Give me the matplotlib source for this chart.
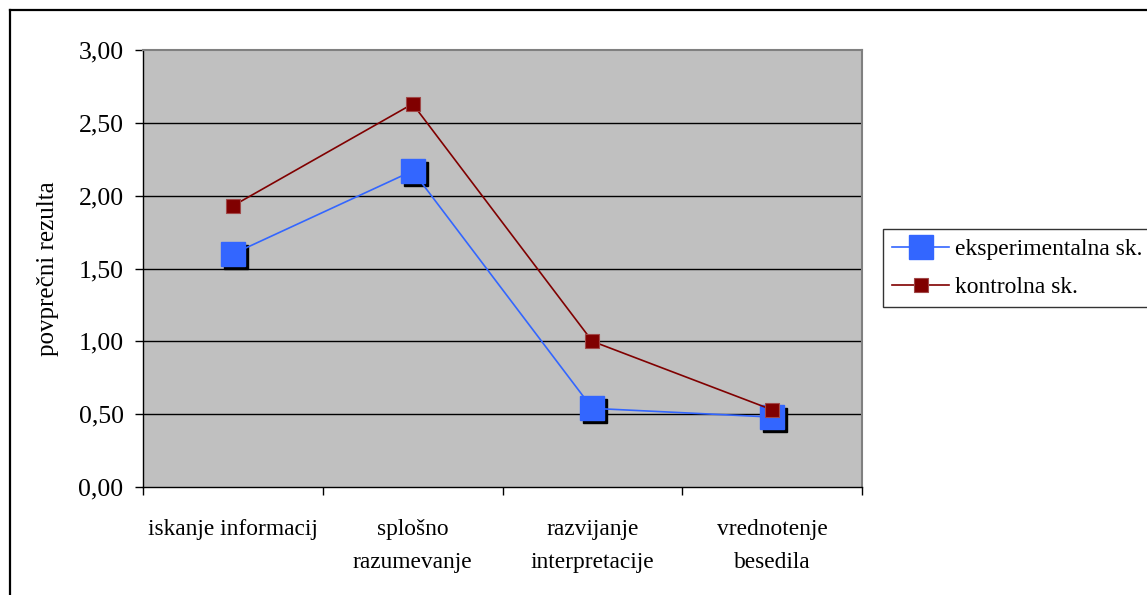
import matplotlib
matplotlib.use("Agg")
import matplotlib.pyplot as plt
import matplotlib.transforms as mtransforms
from matplotlib.lines import Line2D

plt.rcParams['font.family'] = ['Liberation Serif', 'DejaVu Serif']

# Data
categories = ['iskanje informacij', 'splošno\nrazumevanje',
              'razvijanje\ninterpretacije', 'vrednotenje\nbesedila']
eksperimentalna = [1.60, 2.17, 0.54, 0.48]
kontrolna = [1.93, 2.63, 1.00, 0.53]
y_ticks = [0.0, 0.5, 1.0, 1.5, 2.0, 2.5, 3.0]

W, H = 1147, 595
fig = plt.figure(figsize=(W / 100, H / 100), dpi=100)
fig.patch.set_facecolor('white')

# plot area in pixel coordinates
left, right, top, bottom = 143, 862, 50, 487
ax = fig.add_axes([left / W, 1 - bottom / H, (right - left) / W, (bottom - top) / H])
ax.set_facecolor('#C0C0C0')

x = list(range(len(categories)))

# gridlines
for v in y_ticks[1:-1]:
    ax.axhline(v, color='black', lw=1.0, zorder=1)

# drop shadow for the blue markers
shadow = mtransforms.offset_copy(ax.transData, fig=fig, x=3, y=-3, units='dots')
ax.plot(x, eksperimentalna, ls='none', marker='s', ms=17, mfc='black', mec='black',
        transform=shadow, zorder=2)

ax.plot(x, eksperimentalna, color='#3366FF', lw=1.2, marker='s', ms=17,
        mfc='#3366FF', mec='#3366FF', zorder=3, label='eksperimentalna sk.')
ax.plot(x, kontrolna, color='#800000', lw=1.2, marker='s', ms=10,
        mfc='#800000', mec='#A04848', mew=0.8, zorder=4, label='kontrolna sk.')

ax.set_xlim(-0.5, len(categories) - 0.5)
ax.set_ylim(0, 3)
ax.set_yticks(y_ticks)
ax.set_yticklabels([f'{v:.2f}'.replace('.', ',') for v in y_ticks], fontsize=18.5)
ax.tick_params(axis='y', direction='out', length=6, width=1, pad=8, color='black')

# tick marks between categories, labels at category centres
ax.set_xticks([i - 0.5 for i in range(len(categories) + 1)])
ax.set_xticklabels([])
ax.tick_params(axis='x', which='major', direction='out', length=6, width=1)
ax.set_xticks(x, minor=True)
ax.set_xticklabels(categories, minor=True, fontsize=16.8, linespacing=1.75)
ax.tick_params(axis='x', which='minor', length=0, pad=23)

ax.set_ylabel('povprečni rezulta', fontsize=18, labelpad=14)

for s in ['left', 'bottom']:
    ax.spines[s].set_color('black')
    ax.spines[s].set_linewidth(1.0)
for s in ['top', 'right']:
    ax.spines[s].set_color('#808080')
    ax.spines[s].set_linewidth(1.5)

leg = ax.legend(loc='upper left', bbox_to_anchor=(883 / W, 1 - 229 / H),
                bbox_transform=fig.transFigure, fontsize=17, frameon=True,
                fancybox=False, edgecolor='black', handlelength=2.4,
                borderaxespad=0, borderpad=0.4, labelspacing=0.7,
                handletextpad=0.25)
leg.get_frame().set_linewidth(1.0)

# outer chart frame (left and top edges)
fig.add_artist(Line2D([10 / W, 10 / W], [0, 1 - 10 / H], color='black', lw=1.6,
                      transform=fig.transFigure))
fig.add_artist(Line2D([10 / W, 1], [1 - 10 / H, 1 - 10 / H], color='black', lw=1.6,
                      transform=fig.transFigure))

fig.savefig('out.png', dpi=100)
